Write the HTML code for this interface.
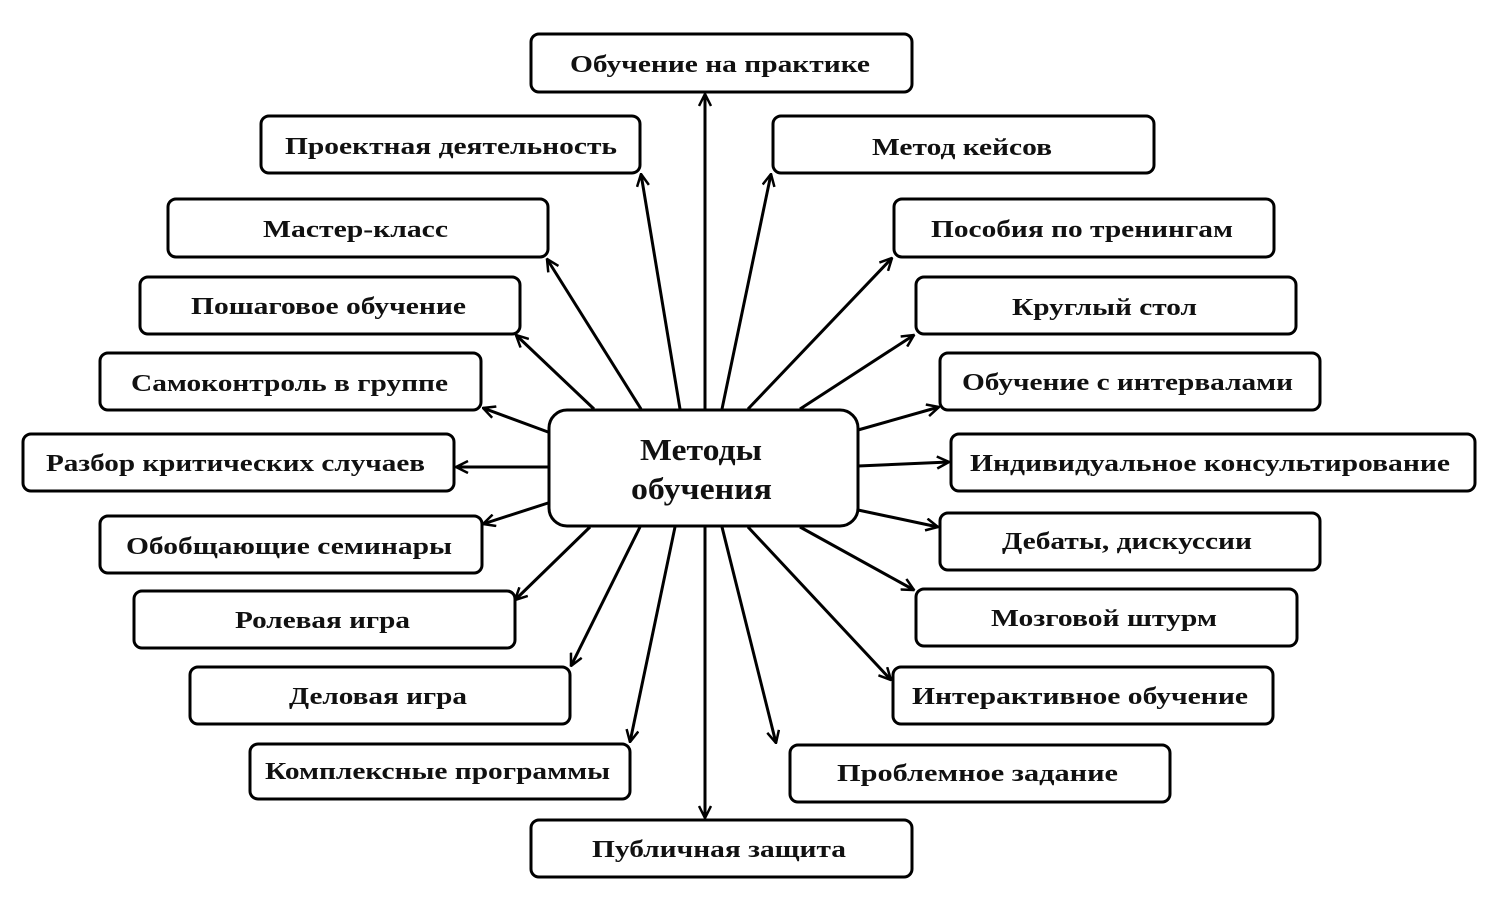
<!DOCTYPE html>
<html><head><meta charset="utf-8"><style>
html,body{margin:0;padding:0;background:#fff;}
svg{display:block;}
text{font-family:"Liberation Serif",serif;font-weight:bold;fill:#111;}
</style></head><body>
<svg width="1497" height="912" viewBox="0 0 1497 912" xmlns="http://www.w3.org/2000/svg">
<defs>
<marker id="a" viewBox="0 0 14 14" refX="13" refY="7" markerWidth="14" markerHeight="14" markerUnits="userSpaceOnUse" orient="auto">
<polyline points="1,1 13,7 1,13" fill="none" stroke="#000" stroke-width="2.5"/>
</marker>
</defs>
<g stroke="#000" stroke-width="3" marker-end="url(#a)">
<line x1="705" y1="409" x2="705" y2="94"/>
<line x1="680" y1="409" x2="641" y2="174"/>
<line x1="722" y1="409" x2="771" y2="174"/>
<line x1="641" y1="409" x2="547" y2="259"/>
<line x1="748" y1="409" x2="892" y2="258"/>
<line x1="594" y1="409" x2="516" y2="335"/>
<line x1="800" y1="409" x2="914" y2="335"/>
<line x1="548" y1="432" x2="483" y2="408"/>
<line x1="858" y1="430" x2="939" y2="407"/>
<line x1="548" y1="467" x2="456" y2="467"/>
<line x1="858" y1="466" x2="949" y2="462"/>
<line x1="548" y1="503" x2="483" y2="524"/>
<line x1="858" y1="510" x2="938" y2="527"/>
<line x1="590" y1="527" x2="515" y2="600"/>
<line x1="800" y1="527" x2="914" y2="590"/>
<line x1="640" y1="527" x2="571" y2="666"/>
<line x1="748" y1="527" x2="891" y2="680"/>
<line x1="675" y1="527" x2="630" y2="742"/>
<line x1="722" y1="527" x2="776" y2="743"/>
<line x1="705" y1="527" x2="705" y2="818"/>
</g>
<g fill="#fff" stroke="#000" stroke-width="3">
<rect x="531" y="34" width="381" height="58" rx="8"/>
<rect x="261" y="116" width="379" height="57" rx="8"/>
<rect x="773" y="116" width="381" height="57" rx="8"/>
<rect x="168" y="199" width="380" height="58" rx="8"/>
<rect x="894" y="199" width="380" height="58" rx="8"/>
<rect x="140" y="277" width="380" height="57" rx="8"/>
<rect x="916" y="277" width="380" height="57" rx="8"/>
<rect x="100" y="353" width="381" height="57" rx="8"/>
<rect x="940" y="353" width="380" height="57" rx="8"/>
<rect x="23" y="434" width="431" height="57" rx="8"/>
<rect x="951" y="434" width="524" height="57" rx="8"/>
<rect x="100" y="516" width="382" height="57" rx="8"/>
<rect x="940" y="513" width="380" height="57" rx="8"/>
<rect x="134" y="591" width="381" height="57" rx="8"/>
<rect x="916" y="589" width="381" height="57" rx="8"/>
<rect x="190" y="667" width="380" height="57" rx="8"/>
<rect x="893" y="667" width="380" height="57" rx="8"/>
<rect x="250" y="744" width="380" height="55" rx="8"/>
<rect x="790" y="745" width="380" height="57" rx="8"/>
<rect x="531" y="820" width="381" height="57" rx="8"/>
<rect x="549" y="410" width="309" height="116" rx="18"/>
</g>
<g font-size="24">
<text x="570" y="72" textLength="300" lengthAdjust="spacingAndGlyphs">Обучение на практике</text>
<text x="285" y="154" textLength="332" lengthAdjust="spacingAndGlyphs">Проектная деятельность</text>
<text x="872" y="155" textLength="180" lengthAdjust="spacingAndGlyphs">Метод кейсов</text>
<text x="263" y="237" textLength="185" lengthAdjust="spacingAndGlyphs">Мастер-класс</text>
<text x="931" y="237" textLength="302" lengthAdjust="spacingAndGlyphs">Пособия по тренингам</text>
<text x="191" y="314" textLength="275" lengthAdjust="spacingAndGlyphs">Пошаговое обучение</text>
<text x="1012" y="315" textLength="185" lengthAdjust="spacingAndGlyphs">Круглый стол</text>
<text x="131" y="391" textLength="317" lengthAdjust="spacingAndGlyphs">Самоконтроль в группе</text>
<text x="962" y="390" textLength="331" lengthAdjust="spacingAndGlyphs">Обучение с интервалами</text>
<text x="46" y="471" textLength="379" lengthAdjust="spacingAndGlyphs">Разбор критических случаев</text>
<text x="970" y="471" textLength="480" lengthAdjust="spacingAndGlyphs">Индивидуальное консультирование</text>
<text x="126" y="554" textLength="326" lengthAdjust="spacingAndGlyphs">Обобщающие семинары</text>
<text x="1002" y="549" textLength="250" lengthAdjust="spacingAndGlyphs">Дебаты, дискуссии</text>
<text x="235" y="628" textLength="175" lengthAdjust="spacingAndGlyphs">Ролевая игра</text>
<text x="991" y="626" textLength="226" lengthAdjust="spacingAndGlyphs">Мозговой штурм</text>
<text x="289" y="704" textLength="178" lengthAdjust="spacingAndGlyphs">Деловая игра</text>
<text x="912" y="704" textLength="336" lengthAdjust="spacingAndGlyphs">Интерактивное обучение</text>
<text x="265" y="779" textLength="345" lengthAdjust="spacingAndGlyphs">Комплексные программы</text>
<text x="837" y="781" textLength="281" lengthAdjust="spacingAndGlyphs">Проблемное  задание</text>
<text x="592" y="857" textLength="254" lengthAdjust="spacingAndGlyphs">Публичная защита</text>
</g>
<g font-size="31">
<text x="640" y="460" textLength="122" lengthAdjust="spacingAndGlyphs">Методы</text>
<text x="631" y="499" textLength="141" lengthAdjust="spacingAndGlyphs">обучения</text>
</g>
</svg>
</body></html>
